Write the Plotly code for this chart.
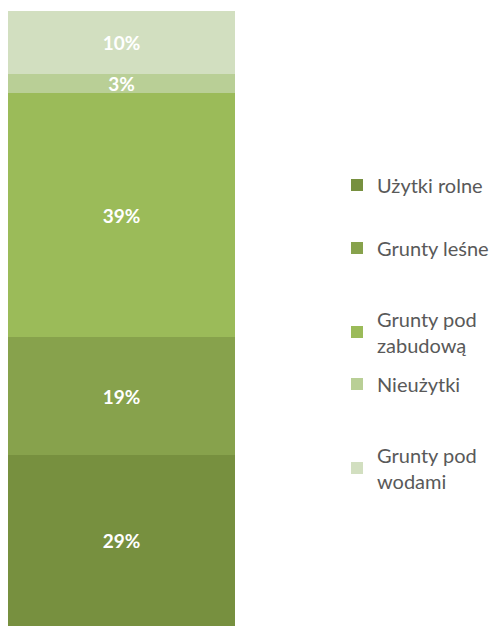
import plotly.graph_objects as go

categories = ['Użytki rolne', 'Grunty leśne', 'Grunty pod<br>zabudową', 'Nieużytki', 'Grunty pod<br>wodami']
shares = [27.8, 19.2, 39.7, 3.1, 10.2]
labels = ['29%', '19%', '39%', '3%', '10%']

colors = ['#77903f', '#87a24c', '#9bbb59', '#b9cf96', '#d2dfc0']
# legend item centres (pixels from top of the figure)
legend_y = [177, 240, 324, 376, 460]

fig = go.Figure()
for i, name in enumerate(categories):
    fig.add_trace(go.Bar(
        x=['all'], y=[shares[i]], name=name,
        marker=dict(color=colors[i], line=dict(width=0)),
        text=[labels[i]], texttemplate='<b>%{text}</b>',
        textposition='inside', insidetextanchor='middle',
        textfont=dict(color='white', size=19, family='Lato'),
        legend='legend' if i == 0 else 'legend%d' % (i + 1),
        hoverinfo='skip',
    ))

legends = {}
for i in range(len(categories)):
    key = 'legend' if i == 0 else 'legend%d' % (i + 1)
    legends[key] = dict(
        x=329 / 502, xref='container', xanchor='left',
        y=1 - legend_y[i] / 630, yref='container', yanchor='middle',
        font=dict(size=20, color='#595959', family='Lato'),
        bgcolor='rgba(0,0,0,0)', itemclick=False,
    )

fig.update_layout(
    width=502, height=630,
    margin=dict(l=0, r=0, t=3, b=12, autoexpand=False),
    barmode='stack', bargap=0,
    plot_bgcolor='white', paper_bgcolor='white',
    xaxis=dict(domain=[0, 227 / 502], visible=False),
    yaxis=dict(range=[0, 100], visible=False),
    uniformtext=dict(minsize=19, mode='show'),
    showlegend=True,
    **legends,
)

fig.write_html("out.html")
